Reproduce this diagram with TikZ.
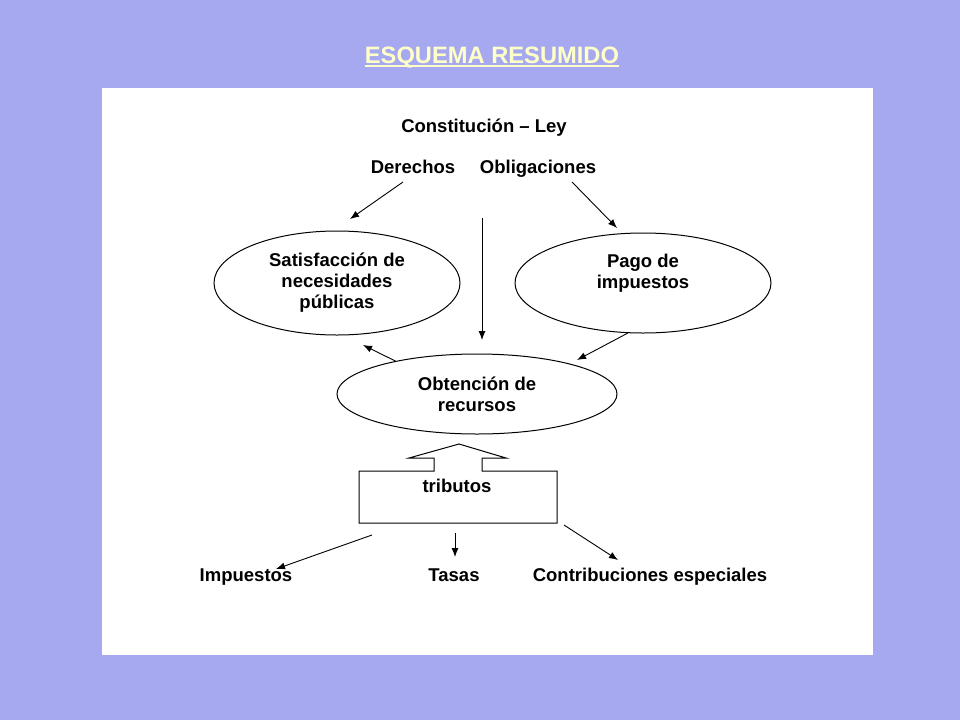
\documentclass[tikz,border=0pt]{standalone}
\usepackage{fontspec}
\setmainfont{Liberation Sans}
\usetikzlibrary{arrows.meta, shapes.geometric, calc, positioning}
\definecolor{fondo}{RGB}{166,169,240}
\definecolor{amarillo}{RGB}{255,255,200}
\tikzset{
    texto/.style={font=\fontsize{18.5}{21}\selectfont\bfseries, inner sep=1pt, align=center},
    elipse/.style={ellipse, draw, line width=1pt, inner sep=0pt, texto},
    flecha/.style={->, >={Latex[length=9pt, width=7pt]}, line width=0.9pt},
    bloque/.style={draw, line width=1pt, line join=miter},
}
\newcommand{\drawFlecha}[2]{
    \draw[flecha] (#1) -- (#2);
}

\begin{document}
\begin{tikzpicture}[x=1pt, y=-1pt]

        % fondo y hoja
        \fill[fondo] (0,0) rectangle (960,720);
        \fill[white] (102,88) rectangle (873,655);

        % titulo
        \node[anchor=base, inner sep=0pt, text=amarillo, font=\fontsize{23.7}{26}\selectfont\bfseries] (tit) at (492,63) {ESQUEMA RESUMIDO};
        \draw[amarillo, line width=1.6pt] ($(tit.base west)+(0,3)$) -- ($(tit.base east)+(0,3)$);

        \node[texto, anchor=base] (cons) at (484,132) {Constitución -- Ley};
        \node[texto, anchor=base] (der) at (413,173) {Derechos};
        \node[texto, anchor=base] (obl) at (538,173) {Obligaciones};

        \node[elipse, minimum width=246, minimum height=104] (sat) at (337,283) {Satisfacción de\\necesidades\\públicas};
        \node[elipse, minimum width=256, minimum height=100, label={[texto, yshift=10pt]center:Pago de\\impuestos}] (pag) at (643,283) {};
        \node[elipse, minimum width=280, minimum height=80] (obt) at (477,394) {Obtención de\\recursos};

        % flecha de bloque
        \draw[bloque] (359,471) -- (434,471) -- (434,458) -- (409,458) -- (459,444) -- (506,458)
            -- (482,458) -- (482,471) -- (557,471) -- (557,523) -- (359,523) -- cycle;
        \node[texto, anchor=base] (trib) at (457,492) {tributos};

        \node[texto, anchor=base] (imp) at (246,581) {Impuestos};
        \node[texto, anchor=base] (tas) at (454,581) {Tasas};
        \node[texto, anchor=base] (con) at (650,581) {Contribuciones especiales};

        \coordinate (derA) at (403,182);
        \coordinate (derB) at (350,219);
        \coordinate (oblA) at (572,182);
        \coordinate (oblB) at (617,228);
        \coordinate (verA) at (482,218);
        \coordinate (verB) at (482,340);
        \coordinate (satB) at (363,345);
        \coordinate (obtB) at (577,360);
        \coordinate (impA) at (372,535);
        \coordinate (impB) at (276,569);
        \coordinate (tasA) at (455,533);
        \coordinate (tasB) at (455,557);
        \coordinate (conA) at (564,525);
        \coordinate (conB) at (618,560);

        \drawFlecha{derA}{derB}
        \drawFlecha{oblA}{oblB}
        \drawFlecha{verA}{verB}
        \drawFlecha{obt.158.7}{satB}
        \drawFlecha{pag.253}{obtB}
        \drawFlecha{impA}{impB}
        \drawFlecha{tasA}{tasB}
        \drawFlecha{conA}{conB}

\end{tikzpicture}
\end{document}
